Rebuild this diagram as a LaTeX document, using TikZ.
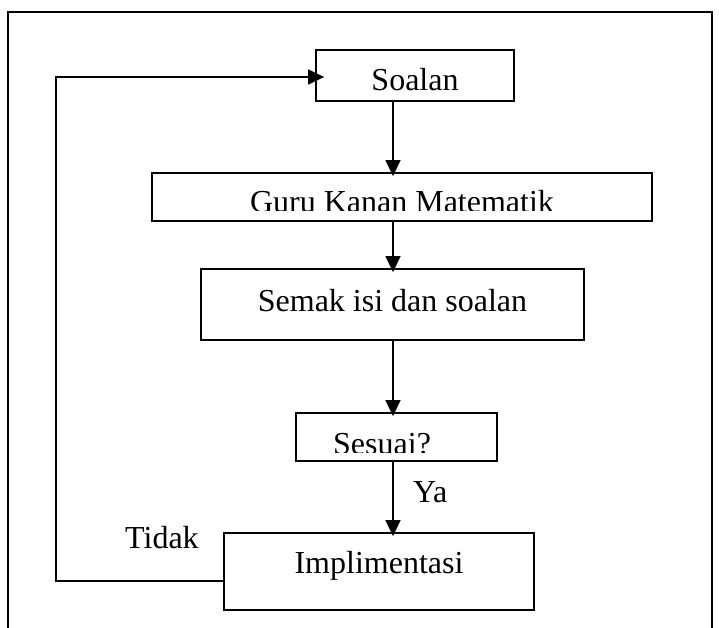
\documentclass[tikz,border=0pt]{standalone}
\usepackage{fontspec}
\setmainfont{Liberation Serif}
\usepackage{tikz}
\usetikzlibrary{arrows.meta, positioning, calc}

\begin{document}
\begin{tikzpicture}[
    x=1pt, y=-1pt,
    every node/.style={font=\fontsize{32}{36}\selectfont, inner sep=0pt},
    flowbox/.style={draw, rectangle, line width=1.8pt, align=center},
    flowline/.style={draw, line width=1.5pt},
    flowarrow/.style={flowline, -{Triangle[length=16pt, width=15pt]}, shorten >=-4pt}
]
    \clip (0,0) rectangle (719,628);
    % Frame round the chart, open at the bottom
    \draw[line width=1.8pt] (8,640) -- (8,12) -- (712,12) -- (712,640);

    % Steps of the checking process
    \node[flowbox, minimum width=198pt, text height=41pt, text depth=10pt] (soalan) at (415,75.5) {Soalan};
    \node[flowbox, minimum width=500pt, minimum height=48pt] (guru) at (402,197) {};
    \node[flowbox, minimum width=383pt, text height=42pt, text depth=29pt] (semak) at (392.5,304.5) {Semak isi dan soalan};
    \node[flowbox, minimum width=201pt, minimum height=48pt] (sesuai) at (396.5,437) {};
    \node[flowbox, minimum width=310pt, text height=40pt, text depth=37pt] (impl) at (379,571.5) {Implimentasi};

    % Labels sitting low in their boxes, cut off at the bottom
    \begin{scope}
        \clip (guru.north west) rectangle ([yshift=11pt]guru.south east);
        \node[anchor=base] (gurutext) at (402,213) {Guru Kanan Matematik};
    \end{scope}
    \begin{scope}
        \clip (sesuai.north west) rectangle ([yshift=9pt]sesuai.south east);
        \node[anchor=base west] (sesuaitext) at (333,454) {Sesuai?};
    \end{scope}

    % Main flow downwards
    \coordinate (spine) at (393,0);
    \draw[flowarrow] (soalan.south -| spine) -- (guru.north -| spine);
    \draw[flowarrow] (guru.south -| spine) -- (semak.north -| spine);
    \draw[flowarrow] (semak.south -| spine) -- (sesuai.north -| spine);
    \draw[flowarrow] (sesuai.south -| spine) -- (impl.north -| spine);

    % Way back to the start
    \draw[flowarrow, shorten >=-9pt] ([yshift=-9.5pt]impl.west) -| (56,77) -- ([yshift=-1.5pt]soalan.west);

    % Branch labels
    \node[anchor=base west] (ya) at (413,502) {Ya};
    \node[anchor=base west] (tidak) at (125,548) {Tidak};
\end{tikzpicture}
\end{document}
